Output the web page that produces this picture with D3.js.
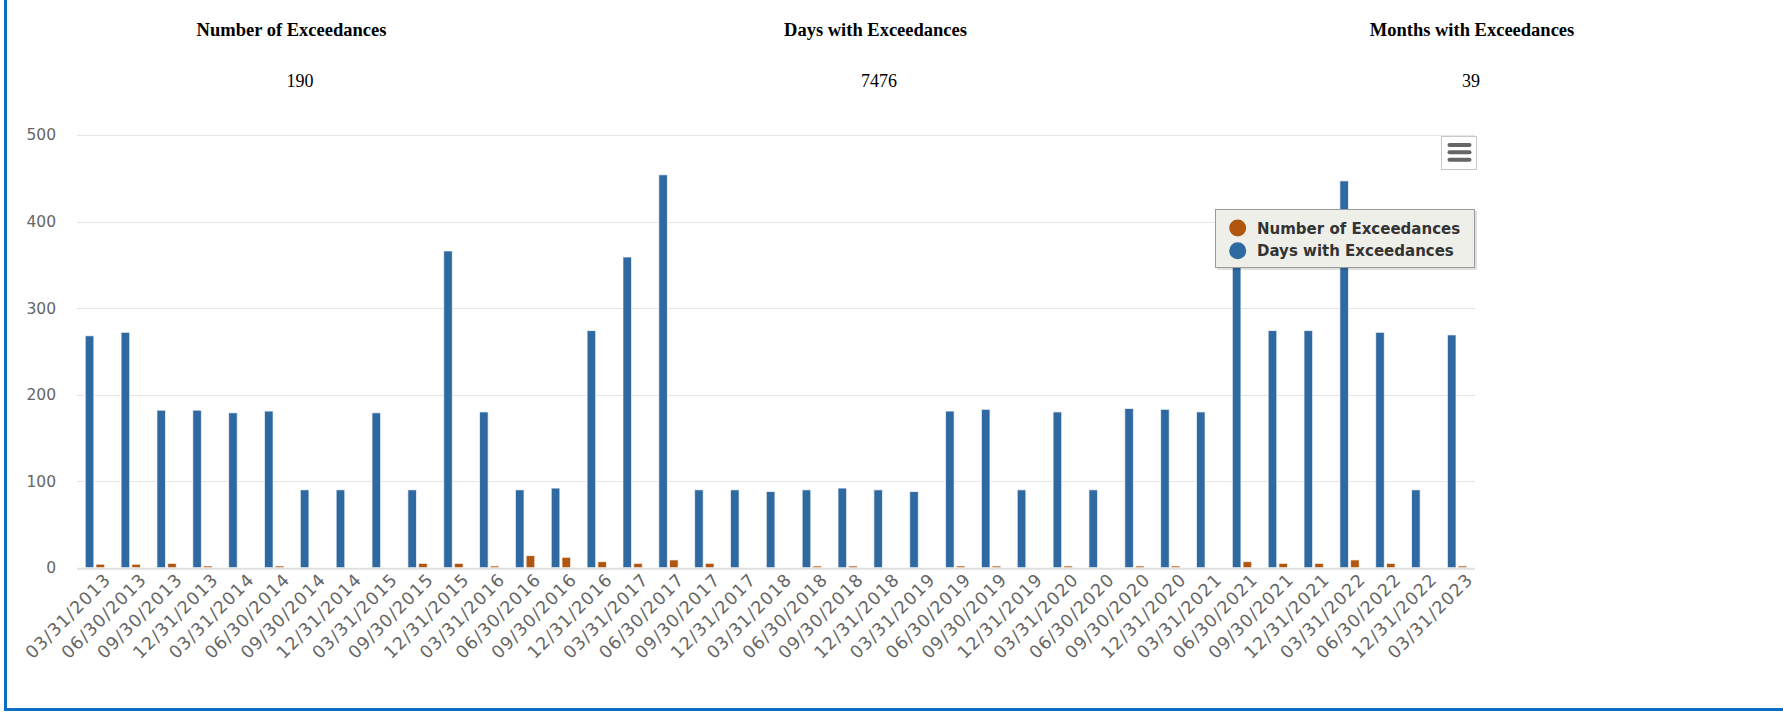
<!DOCTYPE html>
<html>
<head>
<meta charset="utf-8">
<script src="https://cdn.jsdelivr.net/npm/d3@7"></script>
<style>
  body { margin: 0; background: #fff; }
  svg { display: block; }
</style>
</head>
<body>
<svg width="1783" height="712"></svg>
<script>
// Data
var categories = ['03/31/2013', '06/30/2013', '09/30/2013', '12/31/2013', '03/31/2014', '06/30/2014',
  '09/30/2014', '12/31/2014', '03/31/2015', '09/30/2015', '12/31/2015', '03/31/2016', '06/30/2016',
  '09/30/2016', '12/31/2016', '03/31/2017', '06/30/2017', '09/30/2017', '12/31/2017', '03/31/2018',
  '06/30/2018', '09/30/2018', '12/31/2018', '03/31/2019', '06/30/2019', '09/30/2019', '12/31/2019',
  '03/31/2020', '06/30/2020', '09/30/2020', '12/31/2020', '03/31/2021', '06/30/2021', '09/30/2021',
  '12/31/2021', '03/31/2022', '06/30/2022', '12/31/2022', '03/31/2023'];
var daysWithExceedances = [268, 272, 182, 182, 179, 181, 90, 90, 179, 90, 366, 180, 90, 92, 274, 359,
  454, 90, 90, 88, 90, 92, 90, 88, 181, 183, 90, 180, 90, 184, 183, 180, 400, 274, 274, 447, 272, 90, 269];
var numberOfExceedances = [4, 4, 5, 2, 0, 2, 0, 0, 0, 5, 5, 2, 14, 12, 7, 5, 9, 5, 0, 0, 2, 2, 0, 0,
  2, 2, 0, 2, 0, 2, 2, 0, 7, 5, 5, 9, 5, 0, 2];
var yTicks = [0, 100, 200, 300, 400, 500];
var summaryTitles = ['Number of Exceedances', 'Days with Exceedances', 'Months with Exceedances'];
var summaryValues = ['190', '7476', '39'];

var blue = '#2f69a1';
var orange = '#b0560f';

var svg = d3.select('svg');

// page frame
svg.append('rect').attr('x', 4).attr('y', 0).attr('width', 3).attr('height', 711).attr('fill', '#0a6fc0');
svg.append('rect').attr('x', 4).attr('y', 708).attr('width', 1779).attr('height', 3).attr('fill', '#0a6fc0');

// summary header
var titleX = [291.5, 875.5, 1472];
var valueX = [300, 879, 1471];
svg.selectAll('.stitle')
  .data(summaryTitles)
  .enter().append('text')
  .attr('x', function (d, i) { return titleX[i]; })
  .attr('y', 35.5)
  .attr('text-anchor', 'middle')
  .style('font-family', '"Liberation Serif", "Times New Roman", serif')
  .style('font-weight', 'bold')
  .style('font-size', '18.5px')
  .style('fill', '#000')
  .text(function (d) { return d; });
svg.selectAll('.svalue')
  .data(summaryValues)
  .enter().append('text')
  .attr('x', function (d, i) { return valueX[i]; })
  .attr('y', 86.5)
  .attr('text-anchor', 'middle')
  .style('font-family', '"Liberation Serif", "Times New Roman", serif')
  .style('font-size', '18px')
  .style('fill', '#000')
  .text(function (d) { return d; });

// scales
var plotLeft = 77, plotRight = 1475, plotTop = 135, plotBottom = 567.7;
var x0 = d3.scaleBand().domain(categories).range([plotLeft, plotRight]).paddingInner(0.4).paddingOuter(0.2);
var x1 = d3.scaleBand().domain(['days', 'num']).range([0, x0.bandwidth()]).paddingInner(0.2).paddingOuter(0.1);
var y = d3.scaleLinear().domain([0, 500]).range([plotBottom, plotTop]);

var font = '"DejaVu Sans", Verdana, sans-serif';

// grid
svg.append('g')
  .selectAll('line')
  .data(yTicks)
  .enter().append('line')
  .attr('x1', plotLeft).attr('x2', plotRight)
  .attr('y1', function (d) { return Math.round(y(d)) + 0.5; })
  .attr('y2', function (d) { return Math.round(y(d)) + 0.5; })
  .style('stroke', '#e6e6e6');

var yAxis = svg.append('g')
  .attr('transform', 'translate(56,0)')
  .call(d3.axisLeft(y).tickValues(yTicks).tickSize(0).tickPadding(0));
yAxis.select('.domain').remove();
yAxis.selectAll('text')
  .style('font-family', font)
  .style('font-size', '15.5px')
  .style('fill', '#666');

// bars
var groups = svg.append('g')
  .selectAll('g')
  .data(categories)
  .enter().append('g')
  .attr('transform', function (d) { return 'translate(' + x0(d) + ',0)'; });

groups.append('rect')
  .attr('x', x1('days'))
  .attr('width', x1.bandwidth())
  .attr('y', function (d, i) { return y(daysWithExceedances[i]); })
  .attr('height', function (d, i) { return y(0) - y(daysWithExceedances[i]); })
  .style('fill', blue)
  .style('stroke', '#fff')
  .style('stroke-opacity', 0.7)
  .style('stroke-width', 1);

groups.append('rect')
  .attr('x', x1('num'))
  .attr('width', x1.bandwidth())
  .attr('y', function (d, i) { return y(numberOfExceedances[i]); })
  .attr('height', function (d, i) { return y(0) - y(numberOfExceedances[i]); })
  .style('fill', orange)
  .style('stroke', '#fff')
  .style('stroke-opacity', 0.7)
  .style('stroke-width', 1);

// x axis line
svg.append('line')
  .attr('x1', plotLeft).attr('x2', plotRight)
  .attr('y1', plotBottom + 1).attr('y2', plotBottom + 1)
  .style('stroke', '#e0e0e0')
  .style('stroke-width', 2);

// x labels
svg.append('g')
  .selectAll('text')
  .data(categories)
  .enter().append('text')
  .attr('transform', function (d) {
    return 'translate(' + (x0(d) + x0.bandwidth() / 2 + 17) + ',' + (plotBottom + 13) + ') rotate(-45)';
  })
  .attr('text-anchor', 'end')
  .style('font-family', font)
  .style('font-size', '17.5px')
  .style('letter-spacing', '1.1px')
  .style('fill', '#666')
  .text(function (d) { return d; });

// legend
var legend = svg.append('g').attr('transform', 'translate(1215,209)');
legend.append('rect')
  .attr('x', 2).attr('y', 2).attr('width', 260).attr('height', 59)
  .style('fill', '#000').style('opacity', 0.12);
legend.append('rect')
  .attr('x', 0.5).attr('y', 0.5).attr('width', 259).attr('height', 58)
  .style('fill', '#efefea').style('stroke', '#9a9a9a');
var legendItems = [
  { name: 'Number of Exceedances', color: orange },
  { name: 'Days with Exceedances', color: blue }
];
var item = legend.selectAll('.item')
  .data(legendItems)
  .enter().append('g')
  .attr('transform', function (d, i) { return 'translate(0,' + (19 + i * 22.7) + ')'; });
item.append('circle').attr('cx', 22.7).attr('cy', 0).attr('r', 8.5).style('fill', function (d) { return d.color; });
item.append('text')
  .attr('x', 42).attr('y', 5.5)
  .style('font-family', font)
  .style('font-weight', 'bold')
  .style('font-size', '15px')
  .style('fill', '#333')
  .text(function (d) { return d.name; });

// menu button
var menu = svg.append('g').attr('transform', 'translate(1441,136)');
menu.append('rect').attr('x', 0.5).attr('y', 0.5).attr('width', 35).attr('height', 33)
  .style('fill', '#fff').style('stroke', '#c8c8c8');
menu.selectAll('line')
  .data([9, 16.3, 23.7])
  .enter().append('line')
  .attr('x1', 8.5).attr('x2', 28.5)
  .attr('y1', function (d) { return d; }).attr('y2', function (d) { return d; })
  .style('stroke', '#666').style('stroke-width', 4).style('stroke-linecap', 'round');
</script>
</body>
</html>
